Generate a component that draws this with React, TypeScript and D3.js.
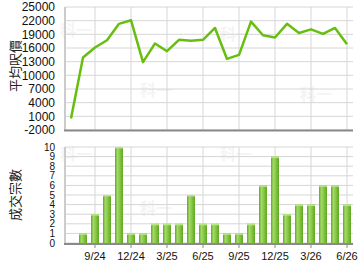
import React from "react";
import * as d3 from "d3";

const months = [
  "7/24","8/24","9/24","10/24","11/24","12/24",
  "1/25","2/25","3/25","4/25","5/25","6/25",
  "7/25","8/25","9/25","10/25","11/25","12/25",
  "1/26","2/26","3/26","4/26","5/26","6/26",
];
const avgPrice = [
  500, 13900, 16100, 17700, 21300, 22100,
  12900, 17000, 15300, 17800, 17600, 17800,
  20400, 13600, 14500, 21800, 18800, 18300,
  21300, 19300, 20100, 19100, 20400, 16800,
];
const deals = [
  0, 1, 3, 5, 10, 1,
  1, 2, 2, 2, 5, 2,
  2, 1, 1, 2, 6, 9,
  3, 4, 4, 6, 6, 4,
];
const quarterLabels = ["9/24","12/24","3/25","6/25","9/25","12/25","3/26","6/26"];
const priceTicks = [-2000, 1000, 4000, 7000, 10000, 13000, 16000, 19000, 22000, 25000];
const dealTicks = [0,1,2,3,4,5,6,7,8,9,10];

export default function App() {
  const W = 360, H = 270;
  const left = 65, right = 353;
  const x = d3.scaleBand<string>().domain(months).range([left, right]).padding(0);
  const cx = (m: string) => (x(m) as number) + x.bandwidth() / 2;
  const yTop = d3.scaleLinear().domain([-2000, 25000]).range([130, 7]);
  const yBot = d3.scaleLinear().domain([0, 10]).range([243, 147]);
  const line = d3.line<number>().x((_, i) => cx(months[i])).y((d) => yTop(d));
  const font = "'Liberation Sans', Arial, sans-serif";
  const grid = "#d6d6d6";
  const barW = 8;
  const wm = [
    [76, 36], [156, 96], [236, 40], [316, 100],
    [76, 160], [156, 214], [236, 160],
  ];
  return (
    <svg width={W} height={H} style={{ position: "absolute", left: 0, top: 0, background: "#fff" }}>
      <defs>
        <linearGradient id="barg" x1="0" x2="1" y1="0" y2="0">
          <stop offset="0" stopColor="#5ea822" />
          <stop offset="0.3" stopColor="#a5d86c" />
          <stop offset="0.55" stopColor="#8cca4a" />
          <stop offset="1" stopColor="#5ea822" />
        </linearGradient>
      </defs>
      {wm.map(([a, b], i) => (
        <text key={"wm" + i} x={a} y={b} fill="#f4f4f4" fontSize={16} fontWeight="bold"
          textAnchor="middle" fontFamily="'Noto Sans CJK TC', sans-serif">科一</text>
      ))}
      {priceTicks.map((t) => (
        <line key={"hg" + t} x1={left} x2={right} y1={yTop(t)} y2={yTop(t)} stroke={grid} strokeWidth={1} />
      ))}
      {quarterLabels.map((q) => (
        <line key={"vg" + q} x1={cx(q)} x2={cx(q)} y1={yTop(25000)} y2={yTop(-2000)} stroke={grid} strokeWidth={1} />
      ))}
      <line x1={left} x2={left} y1={yTop(25000)} y2={yTop(-2000)} stroke="#cccccc" strokeWidth={2} />
      <line x1={left - 1} x2={right} y1={yTop(-2000) + 0.5} y2={yTop(-2000) + 0.5} stroke="#8a8a8a" strokeWidth={2} />
      {priceTicks.map((t) => (
        <text key={"pt" + t} x={55} y={yTop(t)} dy="0.35em" textAnchor="end" fontSize={12}
          fontFamily={font} fill="#111">{t}</text>
      ))}
      <path d={line(avgPrice) || ""} fill="none" stroke="#66bf0f" strokeWidth={2.5} strokeLinejoin="round" />
      <text transform={`translate(20,66) rotate(-90)`} textAnchor="middle" fontSize={13}
        fontFamily="'Noto Sans CJK TC', sans-serif" fill="#222">平均呎價</text>

      {dealTicks.map((t) => (
        <line key={"bh" + t} x1={left} x2={right} y1={yBot(t)} y2={yBot(t)} stroke={grid} strokeWidth={1} />
      ))}
      {quarterLabels.map((q) => (
        <line key={"bv" + q} x1={cx(q)} x2={cx(q)} y1={yBot(10)} y2={yBot(0)} stroke={grid} strokeWidth={1} />
      ))}
      <line x1={left} x2={left} y1={yBot(10)} y2={yBot(0)} stroke="#cccccc" strokeWidth={2} />
      {deals.map((d, i) => d > 0 ? (
        <g key={"b" + i}>
          <rect x={cx(months[i]) - barW / 2} y={yBot(d)} width={barW} height={yBot(0) - yBot(d)} fill="url(#barg)" />
          <rect x={cx(months[i]) - barW / 2} y={yBot(d)} width={barW} height={1.5} fill="#b8e48a" />
        </g>
      ) : null)}
      <line x1={left - 1} x2={right} y1={yBot(0) + 1} y2={yBot(0) + 1} stroke="#8a8a8a" strokeWidth={2} />
      {quarterLabels.map((q) => (
        <g key={"xl" + q}>
          <line x1={cx(q)} x2={cx(q)} y1={yBot(0) + 1} y2={yBot(0) + 5} stroke="#8a8a8a" strokeWidth={1} />
          <text x={cx(q)} y={yBot(0) + 17} textAnchor="middle" fontSize={11} fontFamily={font} fill="#111">{q}</text>
        </g>
      ))}
      {dealTicks.map((t) => (
        <text key={"dt" + t} x={55} y={yBot(t)} dy="0.35em" textAnchor="end" fontSize={10}
          fontFamily={font} fill="#111">{t}</text>
      ))}
      <text transform={`translate(20,195) rotate(-90)`} textAnchor="middle" fontSize={13}
        fontFamily="'Noto Sans CJK TC', sans-serif" fill="#222">成交宗數</text>
    </svg>
  );
}
